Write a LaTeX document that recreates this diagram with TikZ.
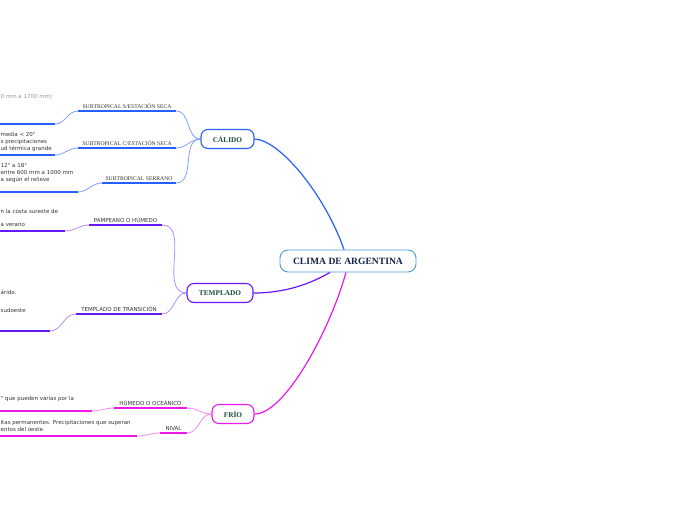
\documentclass[tikz,border=0pt]{standalone}
\usepackage{fontspec}
\setmainfont{Liberation Serif}
\newfontfamily\mapsans{DejaVu Sans}
\usetikzlibrary{positioning}
\definecolor{calblue}{RGB}{38,96,255}
\definecolor{callight}{RGB}{128,160,255}
\definecolor{tempurple}{RGB}{104,24,240}
\definecolor{templight}{RGB}{178,140,255}
\definecolor{friomag}{RGB}{236,24,236}
\definecolor{friolight}{RGB}{244,136,244}
\definecolor{rootblue}{RGB}{72,156,220}
\definecolor{rootink}{RGB}{22,36,72}
\definecolor{branchink}{RGB}{26,76,58}
\definecolor{subink}{RGB}{51,51,51}
\definecolor{paleink}{RGB}{150,150,150}
\tikzset{
	root/.style={draw=rootblue, line width=0.9pt, fill=white, rounded corners=8pt,
		minimum width=136pt, minimum height=22pt, inner sep=0pt,
		font=\fontsize{9.6}{11}\selectfont\bfseries, text=rootink},
	branch/.style={draw=#1, line width=1.1pt, fill=white, rounded corners=7pt,
		minimum height=19pt, inner sep=0pt,
		font=\fontsize{7.3}{9}\selectfont\bfseries, text=branchink},
	serifsub/.style={anchor=south, inner xsep=0pt, inner ysep=2.5pt,
		font=\fontsize{5.7}{7}\selectfont, text=subink},
	sanssub/.style={anchor=south, inner xsep=0pt, inner ysep=2.5pt,
		font=\mapsans\fontsize{5.5}{7}\selectfont, text=subink},
	detail/.style={anchor=north west, inner sep=0pt, align=left,
		font=\mapsans\fontsize{5.5}{6.8}\selectfont, text=subink},
	underline/.style={line width=1.4pt, draw=#1},
	link/.style={line width=0.8pt, draw=#1},
}

\begin{document}
\begin{tikzpicture}[x=1pt,y=-1pt]
	\useasboundingbox (0,0) rectangle (696,520);
	\clip (0,0) rectangle (696,520);

	% main topics
	\node[root] (clima) at (348,261) {CLIMA DE ARGENTINA};
	\node[branch=calblue, minimum width=53pt] (calido) at (227.5,139) {CÁLIDO};
	\node[branch=tempurple, minimum width=66pt] (templado) at (220,293) {TEMPLADO};
	\node[branch=friomag, minimum width=42pt] (frio) at (233,414) {FRÍO};

	\draw[link=calblue, line width=1.2pt] (calido.east) .. controls (280,140) and (325,195) .. ([xshift=-4pt]clima.north);
	\draw[link=tempurple, line width=1.2pt] (templado.east) .. controls (285,293) and (310,284) .. ([xshift=-18pt]clima.south);
	\draw[link=friomag, line width=1.2pt] (frio.east) .. controls (285,414) and (330,330) .. ([xshift=-2pt]clima.south);

	% subtopics
	\node[serifsub, minimum width=98pt] (sinseca) at (127,111) {SUBTROPICAL S/ESTACIÓN SECA};
	\node[serifsub, minimum width=98pt] (conseca) at (127,148) {SUBTROPICAL C/ESTACIÓN SECA};
	\node[serifsub, minimum width=74pt] (serrano) at (139,183) {SUBTROPICAL SERRANO};
	\node[sanssub, minimum width=73pt] (pampeano) at (125.5,225) {PAMPEANO O HÚMEDO};
	\node[sanssub, minimum width=86pt] (transicion) at (119,314) {TEMPLADO DE TRANSICIÓN};
	\node[sanssub, minimum width=73pt] (oceanico) at (150.5,408) {HÚMEDO O OCEÁNICO};
	\node[sanssub, minimum width=27pt] (nival) at (173.5,433) {NIVAL};

	\foreach \s/\c in {sinseca/calblue, conseca/calblue, serrano/calblue,
		pampeano/tempurple, transicion/tempurple, oceanico/friomag, nival/friomag}
		\draw[underline=\c] (\s.south west) -- (\s.south east);

	\foreach \s in {sinseca, conseca, serrano}
		\draw[link=callight] (calido.west) to[out=180, in=0] (\s.south east);
	\foreach \s in {pampeano, transicion}
		\draw[link=templight] (templado.west) to[out=180, in=0] (\s.south east);
	\foreach \s in {oceanico, nival}
		\draw[link=friolight] (frio.west) to[out=180, in=0] (\s.south east);

	% details (cut off at the left edge)
	\foreach \n/\xa/\y/\c in {cal1/55/124/calblue, cal2/55/155/calblue, cal3/78/192/calblue,
		tem1/65/231/tempurple, tem2/50/331/tempurple, fri1/92/411/friomag, fri2/137/436/friomag}{
		\coordinate (\n-r) at (\xa,\y);
		\coordinate (\n-l) at (-2,\y);
		\draw[underline=\c] (\n-r) -- (\n-l);
	}

	\draw[link=callight] (sinseca.south west) to[out=180, in=0] (cal1-r);
	\draw[link=callight] (conseca.south west) to[out=180, in=0] (cal2-r);
	\draw[link=callight] (serrano.south west) to[out=180, in=0] (cal3-r);
	\draw[link=templight] (pampeano.south west) to[out=180, in=0] (tem1-r);
	\draw[link=templight] (transicion.south west) to[out=180, in=0] (tem2-r);
	\draw[link=friolight] (oceanico.south west) to[out=180, in=0] (fri1-r);
	\draw[link=friolight] (nival.south west) to[out=180, in=0] (fri2-r);

	\node[detail, text=paleink] (txtcal1) at (0.5,94.5) {0 mm a 1700 mm)};
	\node[detail] (txtcal2) at (0.5,132.5) {media < 20°\\s precipitaciones\\ud térmica grande};
	\node[detail] (txtcal3) at (0.5,163.5) {12° a 18°\\entre 600 mm a 1000 mm\\a según el relieve};
	\node[detail] (txttem1) at (0.5,209.5) {n la costa sureste de\\[6pt]a verano};
	\node[detail] (txttem2) at (0.5,289.5) {árido.\\[12pt]sudoeste};
	\node[detail] (txtfri1) at (0.5,396.5) {° que pueden varias por la};
	\node[detail] (txtfri2) at (0.5,420.5) {itas permanentes. Precipitaciones que superan\\entos del oeste.};
\end{tikzpicture}
\end{document}
